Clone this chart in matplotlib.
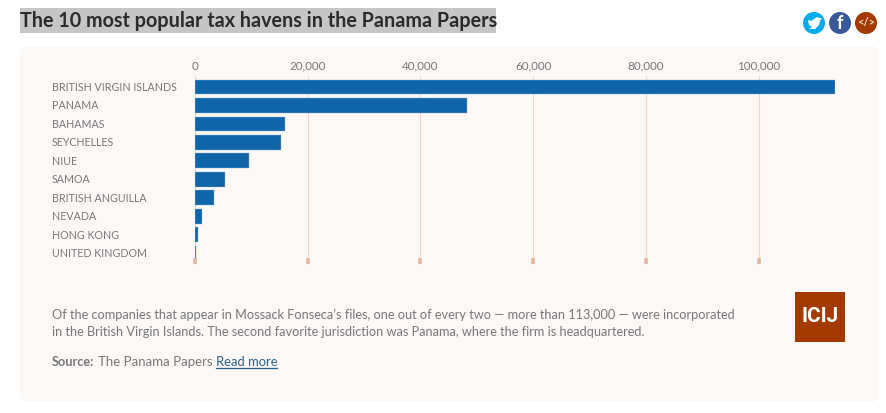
import matplotlib.pyplot as plt
from matplotlib.patches import Circle, FancyBboxPatch, Polygon, Rectangle

plt.rcParams["font.family"] = ["Lato", "DejaVu Sans"]

# Values
COUNTRIES = ["BRITISH VIRGIN ISLANDS", "PANAMA", "BAHAMAS", "SEYCHELLES", "NIUE",
             "SAMOA", "BRITISH ANGUILLA", "NEVADA", "HONG KONG", "UNITED KINGDOM"]
COMPANIES = [113600, 48300, 15900, 15200, 9600, 5300, 3300, 1260, 450, 150]
TICKS = [0, 20000, 40000, 60000, 80000, 100000]

W, H = 886, 413
BLUE = "#1064a8"
GREY = "#77787b"
RUST = "#a33a00"
PANEL = "#fcf8f5"

fig = plt.figure(figsize=(W / 100, H / 100), dpi=100, facecolor="white")

# page furniture is laid out in pixels, y down
bg = fig.add_axes([0, 0, 1, 1])
bg.set_xlim(0, W)
bg.set_ylim(H, 0)
bg.axis("off")

bg.add_patch(FancyBboxPatch((26, 52), 845, 344, boxstyle="round,pad=6,rounding_size=6",
                            fc=PANEL, ec="none"))
bg.add_patch(Rectangle((20, 8), 476, 25, fc="#c6c6c6", ec="none"))
bg.text(20, 21, "The 10 most popular tax havens in the Panama Papers",
        fontsize=14.25, fontweight="bold", color="#2b2b2b", va="center", ha="left")

# share buttons
bg.add_patch(Circle((814, 23), 11, fc="#00aced", ec="none"))
bg.add_patch(Circle((840, 23), 11, fc="#3b5998", ec="none"))
bg.add_patch(Circle((866, 23), 11, fc=RUST, ec="none"))
bg.add_patch(Polygon([(808, 20), (811, 21), (814, 19), (817, 17), (820, 18), (822, 18),
                      (820, 21), (819, 25), (815, 29), (809, 29), (812, 27), (809, 25)],
                     fc="white", ec="none"))
bg.text(840, 23.5, "f", fontsize=13, fontweight="bold", color="white", ha="center", va="center")
bg.text(866, 22.5, "</>", fontsize=8, fontweight="bold", color="#f7d9c4", ha="center", va="center")

# footer
bg.text(52, 314.5, "Of the companies that appear in Mossack Fonseca\u2019s files, one out of every two \u2014 more than 113,000 \u2014 were incorporated",
        fontsize=9.17, color=GREY, va="center")
bg.text(52, 331.5, "in the British Virgin Islands. The second favorite jurisdiction was Panama, where the firm is headquartered.",
        fontsize=9.17, color=GREY, va="center")
bg.text(52, 361.5, "Source:", fontsize=9.17, fontweight="bold", color=GREY, va="center")
bg.text(98, 361.5, "The Panama Papers", fontsize=9.5, color=GREY, va="center")
bg.text(216, 361.5, "Read more", fontsize=9.4, color="#2a5f8a", va="center")
bg.plot([216, 277], [368, 368], color="#2a5f8a", lw=0.9)

bg.add_patch(Rectangle((795, 292), 50, 50, fc=RUST, ec="none"))
bg.text(820, 317, "ICIJ", fontsize=15, fontweight="bold", color="white", ha="center", va="center",
        family=["Roboto", "DejaVu Sans"])

# chart: 0 sits at x=195, 100,000 at x=758.5, rows 18.45px apart
PX_PER_UNIT = (758.5 - 195) / 100000
top, bottom = 76, 264
ax = fig.add_axes([195 / W, 1 - bottom / H, 640 / W, (bottom - top) / H])
ax.patch.set_alpha(0)
ax.set_xlim(0, 640 / PX_PER_UNIT)
ax.set_ylim((bottom - 87) / 18.45, (top - 87) / 18.45)

ypos = list(range(len(COUNTRIES)))
ax.vlines(TICKS, (top - 87) / 18.45, (bottom - 87) / 18.45, color="#eed7c9", lw=0.8, zorder=1, clip_on=False)
ax.barh(ypos, COMPANIES, height=0.8, color=BLUE, edgecolor="#8fb6d6", linewidth=0.3, zorder=2)

# little square ticks at the foot of each gridline
ax.vlines(TICKS, (258 - 87) / 18.45, (bottom - 87) / 18.45, color="#e2b9a0", lw=2.6, zorder=3, clip_on=False)

for side in ax.spines.values():
    side.set_visible(False)
ax.xaxis.tick_top()
ax.set_xticks(TICKS, [f"{t:,}" for t in TICKS])
ax.set_yticks(ypos, [])
ax.tick_params(length=0)
ax.tick_params(axis="x", labelsize=8.4, labelcolor=GREY, pad=3)

for y, name in zip(ypos, COUNTRIES):
    bg.text(52, 87.5 + y * 18.45, name, fontsize=7.68, color=GREY, va="center", ha="left")

fig.savefig("out.png", dpi=100)
